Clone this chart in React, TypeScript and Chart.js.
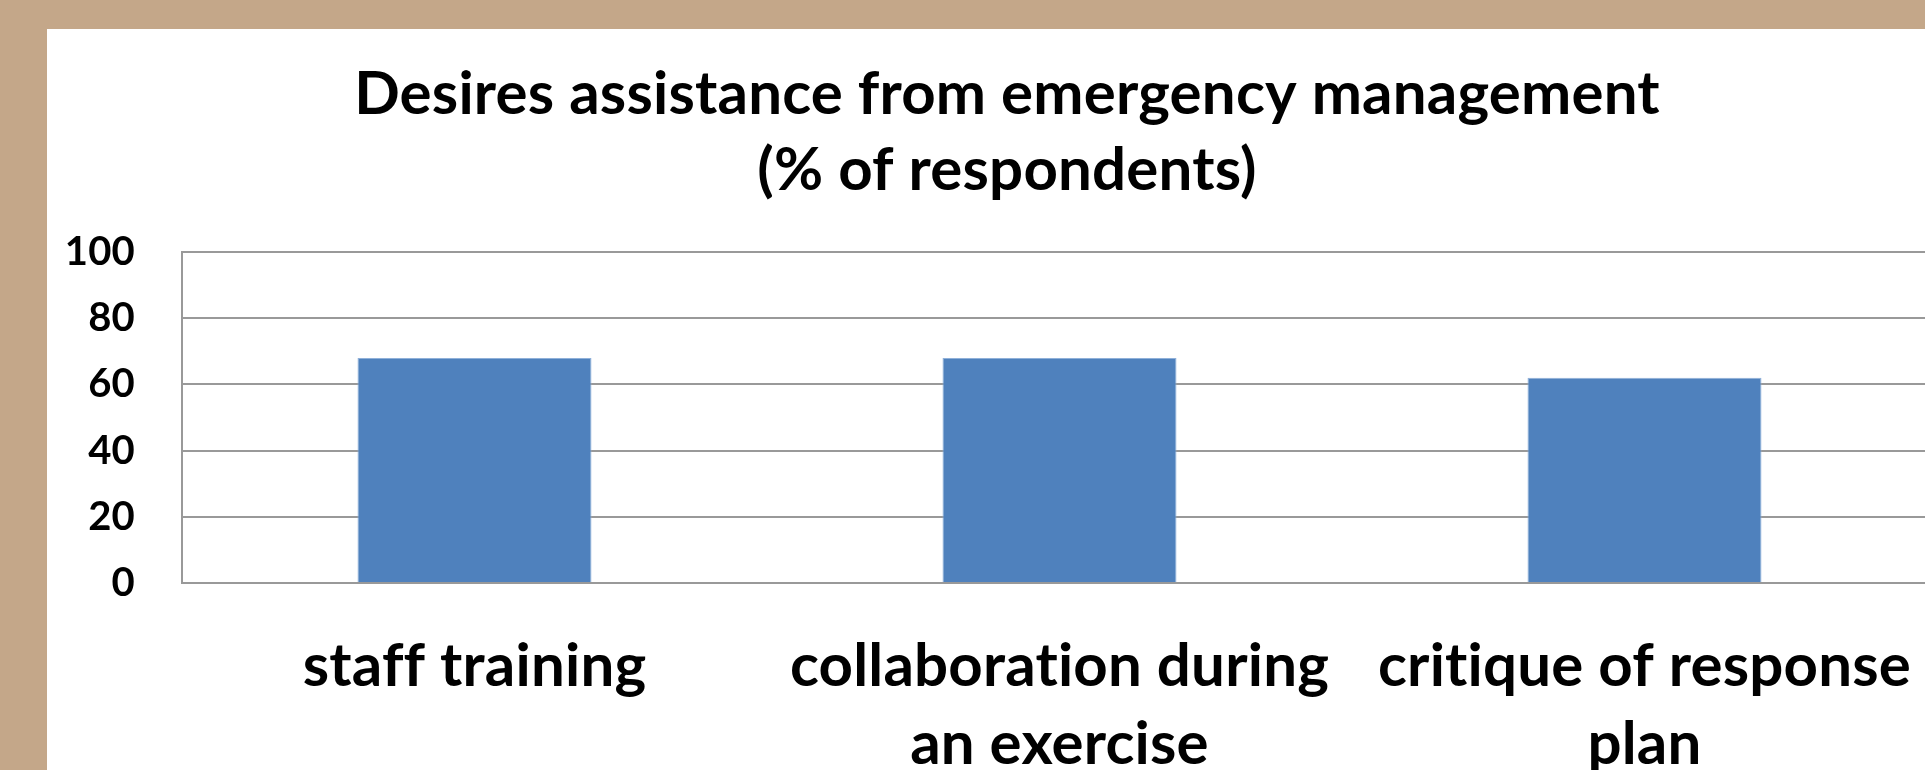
import React, { useEffect, useRef } from "react";
import { Chart, registerables } from "chart.js";

Chart.register(...registerables);

const titleLines = ["Desires assistance from emergency management", "(% of respondents)"];
const categories = [
  ["staff training"],
  ["collaboration during", "an exercise"],
  ["critique of response", "plan"],
];
const values = [68, 68, 62];
const yTicks = [0, 20, 40, 60, 80, 100];

const FONT = "Lato, 'Open Sans', sans-serif";

const noLigatures = {
  id: "noLigatures",
  beforeDraw(chart: any) {
    try {
      chart.ctx.letterSpacing = "0.2px";
    } catch (e) {}
  },
};

// centre the title on the whole canvas width (not only inside layout padding)
const centreTitle = {
  id: "centreTitle",
  afterLayout(chart: any) {
    const t = chart.titleBlock;
    if (t) {
      t.left = 0;
      t.right = chart.width;
      t.width = chart.width;
    }
  },
};

export default function App() {
  const ref = useRef<HTMLCanvasElement | null>(null);

  useEffect(() => {
    document.body.style.margin = "0";
    document.body.style.overflow = "hidden";
    const canvas = ref.current;
    if (!canvas) return;
    const chart = new Chart(canvas, {
      type: "bar",
      data: {
        labels: categories,
        datasets: [
          {
            data: values,
            backgroundColor: "#4F81BD",
            borderColor: "#8FB0D9",
            borderWidth: 1,
            categoryPercentage: 1,
            barPercentage: 0.4,
          },
        ],
      },
      plugins: [noLigatures, centreTitle],
      options: {
        animation: false,
        responsive: false,
        maintainAspectRatio: false,
        layout: { padding: { left: 0, right: 30, top: 0, bottom: 0 } },
        plugins: {
          legend: { display: false },
          tooltip: { enabled: false },
          title: {
            display: true,
            text: titleLines,
            color: "#000",
            font: { family: FONT, size: 60, weight: "bold", lineHeight: "76px" },
            padding: { top: 28, bottom: 43 },
          },
        },
        scales: {
          x: {
            grid: { display: false, drawTicks: false },
            border: { display: true, color: "#999999", width: 2 },
            ticks: {
              color: "#000",
              font: { family: FONT, size: 60, weight: "bold", lineHeight: "78px" },
              padding: 45,
              maxRotation: 0,
              autoSkip: false,
            },
            afterFit: (s: any) => {
              s.height = 187;
            },
          },
          y: {
            min: 0,
            max: 100,
            grid: { color: "#999999", lineWidth: 2, drawTicks: false },
            border: { display: true, color: "#999999", width: 2 },
            ticks: {
              color: "#000",
              font: { family: FONT, size: 40, weight: "bold" },
              padding: 47,
              stepSize: 20,
            },
            afterBuildTicks: (s: any) => {
              s.ticks = yTicks.map((v) => ({ value: v }));
            },
            afterFit: (s: any) => {
              s.width = 135;
            },
          },
        },
      },
    });
    return () => chart.destroy();
  }, []);

  return (
    <div
      style={{
        position: "fixed",
        left: 0,
        top: 0,
        width: 1925,
        height: 770,
        overflow: "hidden",
        background: "#C4A789",
      }}
    >
      <div
        style={{
          position: "absolute",
          left: 47,
          top: 29,
          width: 1920,
          height: 741,
          background: "#FFFFFF",
        }}
      >
        <canvas ref={ref} width={1920} height={741} style={{ display: "block", width: 1920, height: 741 }} />
      </div>
    </div>
  );
}
